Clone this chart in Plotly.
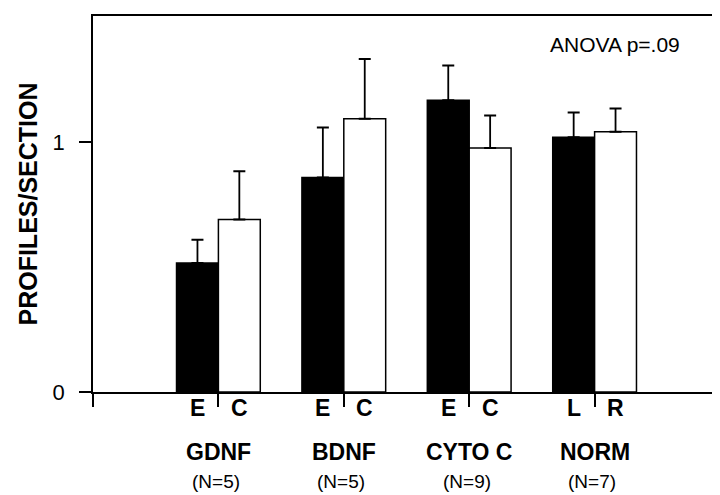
import plotly.graph_objects as go

groups = ["GDNF", "BDNF", "CYTO C", "NORM"]
group_n = ["(N=5)", "(N=5)", "(N=9)", "(N=7)"]
left_labels = ["E", "E", "E", "L"]
right_labels = ["C", "C", "C", "R"]
left_values = [0.516, 0.858, 1.167, 1.019]
left_err = [0.093, 0.200, 0.139, 0.099]
right_values = [0.690, 1.093, 0.976, 1.041]
right_err = [0.193, 0.239, 0.130, 0.093]

FONT = "Arial, 'Liberation Sans', sans-serif"
bw = 0.334
centers = [i + 1 for i in range(len(groups))]
left_x = [c - bw / 2 for c in centers]
right_x = [c + bw / 2 for c in centers]

fig = go.Figure()
fig.add_trace(go.Bar(
    x=left_x, y=left_values, width=bw,
    marker=dict(color="black", line=dict(color="black", width=1.5)),
    error_y=dict(type="data", array=left_err, arrayminus=[0] * 4, symmetric=False,
                 color="black", thickness=1.8, width=6),
    showlegend=False))
fig.add_trace(go.Bar(
    x=right_x, y=right_values, width=bw,
    marker=dict(color="white", line=dict(color="black", width=1.5)),
    error_y=dict(type="data", array=right_err, arrayminus=[0] * 4, symmetric=False,
                 color="black", thickness=1.8, width=6),
    showlegend=False))

fig.update_layout(
    width=720, height=495,
    margin=dict(l=85, r=7, t=6, b=111),
    paper_bgcolor="white", plot_bgcolor="white",
    barmode="overlay",
    font=dict(family=FONT, color="black"),
    xaxis=dict(range=[0, 5], tickvals=[0, 1, 2, 3, 4, 5], ticks="outside", ticklen=13,
               tickwidth=1.5, tickcolor="black", showticklabels=False, showgrid=False,
               zeroline=False, showline=True, linecolor="black", linewidth=1.5, mirror=True),
    yaxis=dict(range=[0, 1.504], tickvals=[0, 1], ticktext=["0", "1"], ticks="outside",
               ticklen=12, tickwidth=1.5, tickcolor="black", showgrid=False, zeroline=False,
               showline=True, linecolor="black", linewidth=1.5, mirror=True,
               ticklabelstandoff=10,
               tickfont=dict(size=22, family=FONT),
               title=dict(text="<b>PROFILES/SECTION</b>", font=dict(size=25, family=FONT),
                          standoff=8)),
)

for i in range(len(groups)):
    fig.add_annotation(x=left_x[i], y=-0.042, xref="x", yref="paper", text="<b>%s</b>" % left_labels[i],
                       showarrow=False, font=dict(size=23, family=FONT), yanchor="middle")
    fig.add_annotation(x=right_x[i], y=-0.042, xref="x", yref="paper", text="<b>%s</b>" % right_labels[i],
                       showarrow=False, font=dict(size=23, family=FONT), yanchor="middle")
    fig.add_annotation(x=centers[i], y=-0.16, xref="x", yref="paper", text="<b>%s</b>" % groups[i],
                       showarrow=False, font=dict(size=23, family=FONT), yanchor="middle")
    fig.add_annotation(x=centers[i] - 0.02, y=-0.238, xref="x", yref="paper", text=group_n[i],
                       showarrow=False, font=dict(size=19, family=FONT), yanchor="middle")

fig.add_annotation(x=0.9395, y=0.923, xref="paper", yref="paper", text="ANOVA p=.09",
                   showarrow=False, xanchor="right", yanchor="middle",
                   font=dict(size=21, family=FONT))

fig.write_html("out.html")
